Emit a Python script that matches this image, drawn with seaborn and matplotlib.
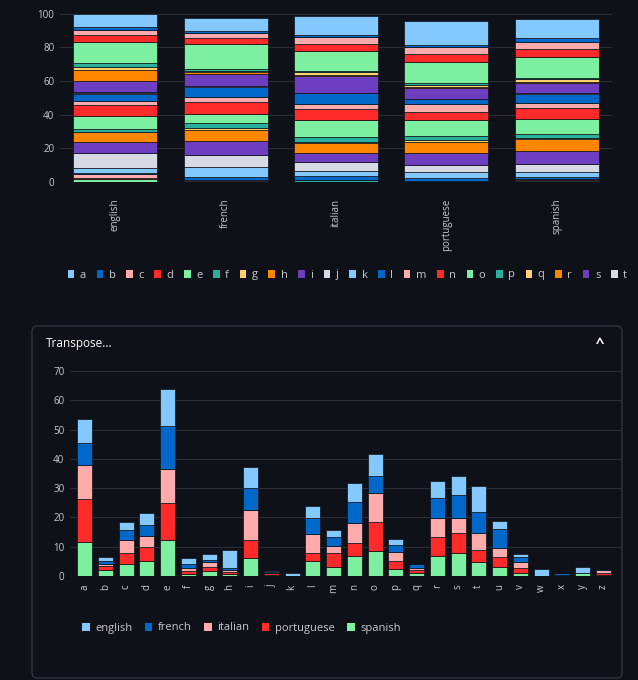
import numpy as np
import pandas as pd
import matplotlib.pyplot as plt
import seaborn as sns
from matplotlib.patches import Patch, FancyBboxPatch

letters = list('abcdefghijklmnopqrstuvwxyz')
languages = ['english', 'french', 'italian', 'portuguese', 'spanish']

english = [8.167, 1.492, 2.782, 4.253, 12.702, 2.228, 2.015, 6.094, 6.966, 0.153, 0.772, 4.025, 2.406,
           6.749, 7.507, 1.929, 0.095, 5.987, 6.327, 9.056, 2.758, 0.978, 2.360, 0.150, 1.974, 0.074]
french = [7.636, 0.901, 3.260, 3.669, 14.715, 1.066, 0.866, 0.737, 7.529, 0.613, 0.074, 5.456, 2.968,
          7.095, 5.796, 2.521, 1.362, 6.693, 7.948, 7.244, 6.311, 1.838, 0.049, 0.427, 0.128, 0.326]
italian = [11.745, 0.927, 4.501, 3.736, 11.792, 1.153, 1.644, 0.636, 10.143, 0.011, 0.009, 6.510, 2.512,
           6.883, 9.832, 3.056, 0.505, 6.367, 4.981, 5.623, 3.011, 2.097, 0.033, 0.003, 0.020, 1.181]
portuguese = [14.634, 1.043, 3.882, 4.992, 12.570, 1.023, 1.303, 0.781, 6.186, 0.397, 0.015, 2.779, 4.738,
              4.446, 9.735, 2.523, 1.204, 6.530, 6.805, 4.336, 3.639, 1.575, 0.037, 0.253, 0.006, 0.470]
spanish = [11.525, 2.215, 4.019, 5.010, 12.181, 0.692, 1.768, 0.703, 6.247, 0.493, 0.011, 4.967, 3.157,
           6.712, 8.683, 2.510, 0.877, 6.871, 7.977, 4.632, 2.927, 1.138, 0.017, 0.215, 1.008, 0.467]

BG = '#0e1117'
GRID = '#2b2e36'
TXT = '#fafafa'
TICK = '#c8cad0'
base10 = ['#83c9ff', '#0068c9', '#ffabab', '#ff2b2b', '#7defa1',
          '#29b09d', '#ffd16a', '#ff8700', '#6d3fc0', '#d5dae5']
letter_colors = {l: base10[i % 10] for i, l in enumerate(letters)}
lang_colors = dict(zip(languages, base10[:5]))

rows = []
for lang, vals in zip(languages, [english, french, italian, portuguese, spanish]):
    for l, v in zip(letters, vals):
        rows.append({'language': lang, 'letter': l, 'value': v})
df = pd.DataFrame(rows)
df['lang_pos'] = df['language'].map({k: i for i, k in enumerate(languages)})
df['letter_pos'] = df['letter'].map({k: i for i, k in enumerate(letters)})

sns.set_style('dark')
plt.rcParams['font.family'] = ['Open Sans', 'DejaVu Sans']

fig = plt.figure(figsize=(6.38, 6.8), dpi=100, facecolor=BG)

# container box for the second chart (drawn behind the axes)
box = FancyBboxPatch((32 / 638, 2 / 680), 590 / 638, 352 / 680,
                     boxstyle='round,pad=0,rounding_size=0.008', transform=fig.transFigure,
                     facecolor=BG, edgecolor='#3a3d46', linewidth=0.8, zorder=-5)
fig.patches.append(box)


def style(ax, ymax, step):
    ax.set_facecolor('none')
    for s in ax.spines.values():
        s.set_visible(False)
    ax.set_yticks(np.arange(0, ymax + 1, step))
    ax.yaxis.grid(True, color=GRID, linewidth=0.8)
    ax.xaxis.grid(False)
    ax.set_axisbelow(True)
    ax.tick_params(colors=TICK, labelsize=7, length=0, pad=4)
    ax.set_xlabel('')
    ax.set_ylabel('')


# top chart: letters stacked per language
ax1 = fig.add_axes([60 / 638, 1 - 182 / 680, 552 / 638, 170 / 680])
sns.histplot(data=df, x='lang_pos', weights='value', hue='letter', hue_order=letters,
             multiple='stack', discrete=True, shrink=0.76, palette=letter_colors,
             alpha=1, edgecolor=BG, linewidth=0.5, legend=False, ax=ax1)
style(ax1, 100, 20)
ax1.set_ylim(0, 101)
ax1.set_xlim(-0.5, 4.5)
ax1.set_xticks(range(5))
ax1.set_xticklabels(languages, rotation=90)
ax1.tick_params(axis='x', pad=12)

handles = [Patch(facecolor=letter_colors[l], edgecolor='none', label=l) for l in letters]
fig.legend(handles=handles, loc='center left', bbox_to_anchor=(62 / 638, 1 - 275 / 680),
           ncol=26, frameon=False, fontsize=8, labelcolor=TICK, handlelength=0.6,
           handleheight=0.7, handletextpad=0.5, columnspacing=0.95, borderpad=0)

fig.text(46 / 638, 1 - 344 / 680, 'Transpose...', color=TXT, fontsize=8.5, va='center')
fig.text(600 / 638, 1 - 344 / 680, '^', color=TXT, fontsize=11, va='center', ha='center',
         fontweight='bold')

# bottom chart: languages stacked per letter
ax2 = fig.add_axes([70 / 638, 1 - 576 / 680, 552 / 638, 208 / 680])
sns.histplot(data=df, x='letter_pos', weights='value', hue='language', hue_order=languages,
             multiple='stack', discrete=True, shrink=0.72, palette=lang_colors,
             alpha=1, edgecolor=BG, linewidth=0.5, legend=False, ax=ax2)
style(ax2, 70, 10)
ax2.set_ylim(0, 71)
ax2.set_xlim(-0.7, 25.9)
ax2.set_xticks(range(26))
ax2.set_xticklabels(letters, rotation=90)
ax2.tick_params(axis='x', pad=6)

handles2 = [Patch(facecolor=lang_colors[l], edgecolor='none', label=l) for l in languages]
fig.legend(handles=handles2, loc='center left', bbox_to_anchor=(72 / 638, 1 - 628 / 680),
           ncol=5, frameon=False, fontsize=8, labelcolor=TICK, handlelength=0.7,
           handleheight=0.7, handletextpad=0.5, columnspacing=1.1)

fig.savefig('out.png', dpi=100, facecolor=BG)
